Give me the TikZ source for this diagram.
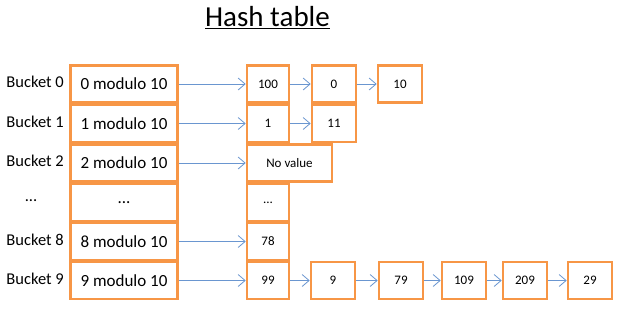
\documentclass[tikz,border=0pt]{standalone}
\usepackage{fontspec}
\setmainfont{Carlito}
\usetikzlibrary{arrows.meta}

\definecolor{boxorange}{HTML}{F79646}
\definecolor{linkblue}{HTML}{6A96D0}
\tikzset{
  hbox/.style={draw=boxorange, line width=2.6pt, minimum width=107pt, minimum height=37pt, inner sep=0pt, font=\fontsize{17}{20}\selectfont},
  lbox/.style={draw=boxorange, line width=2.6pt, minimum width=42pt, minimum height=37pt, inner sep=0pt, font=\fontsize{13}{15}\selectfont},
  blabel/.style={anchor=east, inner sep=0pt, font=\fontsize{16.5}{20}\selectfont},
  link/.style={draw=linkblue, line width=0.8pt, -{Straight Barb[length=7pt, width=12pt, line width=0.8pt]}}
}

\begin{document}
\begin{tikzpicture}[x=1pt, y=-1pt]
\useasboundingbox[fill=white] (0,0) rectangle (624,317);
% title
\node[font=\fontsize{29}{34}\selectfont, inner sep=1pt] (title) at (267.5,18) {\underline{Hash table}};
% buckets
\node[hbox] (b0) at (124,84) {0 modulo 10};
\node[hbox] (b1) at (124,123.5) {1 modulo 10};
\node[hbox] (b2) at (124,163) {2 modulo 10};
\node[hbox] (bd) at (124,202.5) {...};
\node[hbox] (b8) at (124,241.5) {8 modulo 10};
\node[hbox] (b9) at (124,280.5) {9 modulo 10};
\node[blabel] (l0) at (64,82) {Bucket 0};
\node[blabel] (l1) at (64,121.5) {Bucket 1};
\node[blabel] (l2) at (64,161) {Bucket 2};
\node[blabel, anchor=center] (ld) at (31,200.5) {...};
\node[blabel] (l8) at (64,239.5) {Bucket 8};
\node[blabel] (l9) at (64,278.5) {Bucket 9};
% values
\node[lbox] (v0) at (268,84) {100};
\node[lbox] (v1) at (268,123.5) {1};
\node[lbox, minimum width=85pt] (v2) at (289.5,163) {No value};
\node[lbox] (vd) at (268,202.5) {...};
\node[lbox] (v8) at (268,241.5) {78};
\node[lbox] (v9) at (268,280.5) {99};
% chains
\node[lbox, minimum width=44pt] (c00) at (334,84) {0};
\node[lbox, minimum width=44pt] (c01) at (400,84) {10};
\node[lbox, minimum width=44pt] (c10) at (334,123.5) {11};
\node[lbox, minimum width=44pt] (c90) at (333,280.5) {9};
\node[lbox, minimum width=44pt] (c91) at (401,280.5) {79};
\node[lbox, minimum width=44pt] (c92) at (464,280.5) {109};
\node[lbox, minimum width=44pt] (c93) at (525,280.5) {209};
\node[lbox, minimum width=44pt] (c94) at (590,280.5) {29};
% links
\foreach \a/\b in {b0/v0, b1/v1, b2/v2, b8/v8, b9/v9, v0/c00, c00/c01, v1/c10, v9/c90, c90/c91, c91/c92, c92/c93, c93/c94}
  \draw[link] (\a.east) -- (\b.west);
\end{tikzpicture}
\end{document}
